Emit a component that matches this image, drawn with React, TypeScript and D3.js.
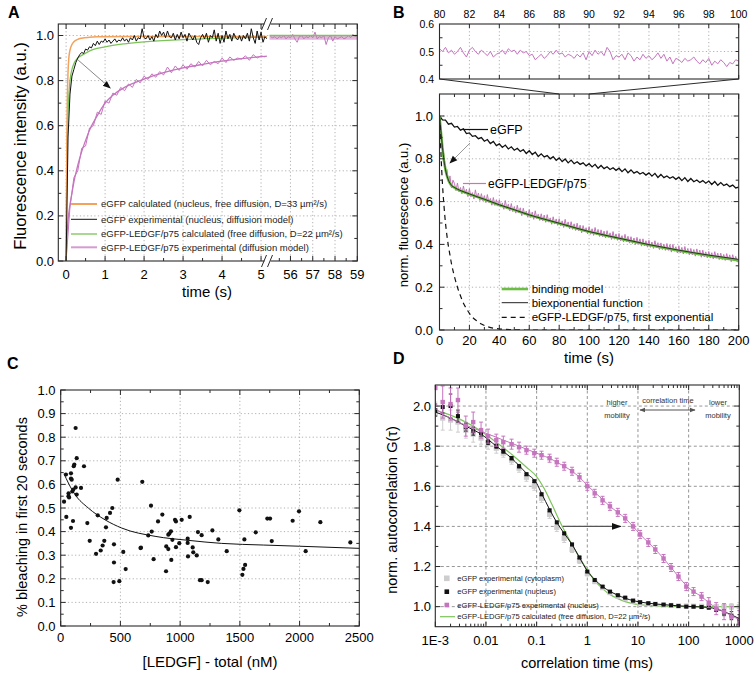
import React from 'react';
import * as d3 from 'd3';

// ================= Panel A data =================
const aEgfpCalcT = [0, 0.01, 0.02, 0.03, 0.05, 0.07, 0.1, 0.15, 0.2, 0.3, 0.4, 0.6, 0.8, 1.0, 1.5, 2, 3, 4, 5.15];
const aEgfpCalc = [0, 0.3, 0.55, 0.7, 0.84, 0.9, 0.935, 0.96, 0.972, 0.983, 0.988, 0.992, 0.994, 0.995, 0.996, 0.996, 0.996, 0.996, 0.996];
const aLedgfCalcT = [0, 0.01, 0.02, 0.04, 0.06, 0.1, 0.15, 0.2, 0.3, 0.4, 0.5, 0.7, 1.0, 1.5, 2, 3, 4, 5.15];
const aLedgfCalc = [0, 0.25, 0.42, 0.6, 0.7, 0.8, 0.85, 0.875, 0.9, 0.912, 0.922, 0.938, 0.95, 0.963, 0.972, 0.982, 0.988, 0.993];
const aEgfpExpDt = 0.05;
const aEgfpExp = [
  0.0, 0.55, 0.74, 0.82, 0.85, 0.88, 0.9, 0.915, 0.925, 0.92,
  0.94, 0.935, 0.95, 0.945, 0.965, 0.955, 0.975, 0.96, 0.975, 0.97,
  0.985, 0.97, 0.98, 0.965, 0.975, 0.985, 0.97, 0.98, 0.975, 0.99,
  0.975, 0.985, 0.97, 0.99, 0.98, 1.0, 0.975, 0.99, 0.985, 1.03,
  0.99, 0.985, 1.0, 0.98, 0.995, 0.975, 1.005, 0.99, 1.02, 1.0,
  1.015, 0.99, 1.02, 0.995, 0.99, 1.01, 0.98, 1.005, 0.985, 1.015,
  0.99, 1.005, 0.975, 1.01, 0.995, 0.98, 1.0, 0.97, 0.96, 0.99,
  1.005, 0.985, 1.01, 0.97, 1.0, 0.99, 1.025, 0.975, 1.01, 0.965,
  1.0, 0.97, 1.02, 0.985, 1.005, 0.975, 1.01, 0.99, 0.98, 1.0,
  0.975, 1.0, 0.985, 1.01, 0.975, 1.03, 0.99, 0.965, 1.02, 0.98,
  1.015, 0.97, 0.995, 0.985,
];
const aLedgfExpDt = 0.1;
const aLedgfExp = [
  0.0, 0.24, 0.37, 0.4, 0.5, 0.51, 0.59, 0.6, 0.66, 0.65,
  0.71, 0.7, 0.745, 0.735, 0.77, 0.755, 0.785, 0.77, 0.805, 0.79,
  0.82, 0.805, 0.83, 0.815, 0.84, 0.825, 0.86, 0.835, 0.865, 0.845,
  0.87, 0.85, 0.875, 0.86, 0.885, 0.865, 0.89, 0.87, 0.885, 0.875,
  0.9, 0.88, 0.905, 0.89, 0.9, 0.895, 0.91, 0.89, 0.915, 0.9,
  0.91, 0.905,
];
const aLedgfFitT = [0, 0.02, 0.05, 0.1, 0.15, 0.2, 0.3, 0.4, 0.5, 0.6, 0.8, 1.0, 1.2, 1.5, 1.75, 2, 2.5, 3, 3.5, 4, 4.5, 5, 5.15];
const aLedgfFit = [0, 0.1, 0.18, 0.25, 0.3, 0.35, 0.425, 0.485, 0.535, 0.58, 0.645, 0.7, 0.735, 0.77, 0.79, 0.807, 0.835, 0.856, 0.872, 0.886, 0.897, 0.906, 0.908];
const aLateT0 = 55.1;
const aLateDt = 0.1;
const aLateLedgfExp = [
  0.995, 0.99, 0.995, 0.985, 0.995, 0.99, 1.0, 0.985, 0.995, 0.99,
  1.005, 0.985, 0.97, 0.995, 1.0, 0.985, 0.995, 0.99, 1.0, 0.99,
  1.015, 0.985, 0.995, 0.99, 1.0, 0.96, 0.99, 1.0, 0.975, 0.995,
  0.985, 0.99, 0.995, 0.985, 0.99, 1.0, 0.99, 1.005, 0.995, 1.0,
];
const aLateT = [55.05, 59];
const aLateLedgfCalc = [1.0, 1.0];
const aLateLedgfFit = [0.99, 0.99];
const aArrow = [[0.31, 0.891], [1.13, 0.767]];
const aXTicksLeft = [0, 1, 2, 3, 4, 5];
const aXTicksRight = [56, 57, 58, 59];
const aYTicks = [0, 0.2, 0.4, 0.6, 0.8, 1.0];
const aLegend = [
  'eGFP calculated (nucleus, free diffusion, D=33 µm²/s)',
  'eGFP experimental (nucleus, diffusion model)',
  'eGFP-LEDGF/p75 calculated (free diffusion, D=22 µm²/s)',
  'eGFP-LEDGF/p75 experimental (diffusion model)',
];

// ================= Panel B data =================
const bInsetT0 = 80;
const bInsetDt = 0.2;
const bInset = [
  0.51, 0.5, 0.515, 0.495, 0.505, 0.49, 0.5, 0.515, 0.495, 0.48, 0.505, 0.515, 0.5, 0.49, 0.505, 0.495, 0.485, 0.5, 0.48, 0.49,
  0.495, 0.505, 0.49, 0.51, 0.5, 0.505, 0.49, 0.505, 0.495, 0.5, 0.485, 0.49, 0.47, 0.48, 0.49, 0.475, 0.485, 0.5, 0.49, 0.505,
  0.49, 0.495, 0.48, 0.49, 0.485, 0.475, 0.49, 0.48, 0.495, 0.47, 0.5, 0.485, 0.505, 0.49, 0.5, 0.485, 0.515, 0.5, 0.47, 0.485,
  0.48, 0.49, 0.47, 0.495, 0.485, 0.465, 0.48, 0.47, 0.49, 0.475, 0.485, 0.47, 0.48, 0.495, 0.475, 0.49, 0.465, 0.48, 0.455, 0.475,
  0.47, 0.46, 0.475, 0.465, 0.47, 0.48, 0.465, 0.455, 0.47, 0.46, 0.475, 0.45, 0.465, 0.455, 0.47, 0.46, 0.445, 0.46, 0.455, 0.47, 0.465,
];
const bEgfpDt = 2;
const bEgfp = [
  1.0, 0.982, 0.981, 0.962, 0.966, 0.948, 0.951, 0.934, 0.94, 0.918,
  0.921, 0.905, 0.908, 0.894, 0.899, 0.882, 0.89, 0.871, 0.881, 0.862,
  0.87, 0.853, 0.864, 0.846, 0.856, 0.84, 0.849, 0.834, 0.843, 0.825,
  0.838, 0.82, 0.831, 0.811, 0.823, 0.809, 0.815, 0.8, 0.81, 0.793,
  0.804, 0.787, 0.799, 0.781, 0.794, 0.777, 0.786, 0.774, 0.781, 0.767,
  0.777, 0.762, 0.774, 0.756, 0.769, 0.754, 0.763, 0.75, 0.758, 0.746,
  0.756, 0.74, 0.753, 0.735, 0.748, 0.733, 0.741, 0.729, 0.736, 0.724,
  0.734, 0.719, 0.732, 0.713, 0.727, 0.712, 0.72, 0.709, 0.716, 0.704,
  0.714, 0.698, 0.712, 0.694, 0.708, 0.693, 0.701, 0.689, 0.698, 0.686,
  0.696, 0.68, 0.694, 0.676, 0.689, 0.675, 0.682, 0.67, 0.677, 0.664,
  0.668,
];
const bLedgfDt = 1;
const bLedgf = [
  1.0, 0.94, 0.85, 0.82, 0.74, 0.75, 0.69, 0.72, 0.665, 0.7,
  0.685, 0.651, 0.687, 0.646, 0.666, 0.636, 0.673, 0.637, 0.658, 0.623,
  0.66, 0.622, 0.642, 0.612, 0.655, 0.617, 0.64, 0.605, 0.637, 0.604,
  0.628, 0.595, 0.633, 0.596, 0.615, 0.583, 0.619, 0.582, 0.609, 0.579,
  0.608, 0.574, 0.594, 0.564, 0.605, 0.566, 0.588, 0.556, 0.591, 0.553,
  0.577, 0.546, 0.583, 0.547, 0.571, 0.534, 0.569, 0.538, 0.556, 0.527,
  0.562, 0.525, 0.551, 0.517, 0.557, 0.521, 0.541, 0.512, 0.543, 0.51,
  0.537, 0.503, 0.539, 0.504, 0.524, 0.494, 0.529, 0.495, 0.519, 0.489,
  0.52, 0.487, 0.51, 0.479, 0.517, 0.481, 0.505, 0.472, 0.506, 0.47,
  0.496, 0.465, 0.499, 0.464, 0.49, 0.454, 0.488, 0.458, 0.478, 0.449,
  0.483, 0.447, 0.473, 0.442, 0.479, 0.444, 0.47, 0.437, 0.468, 0.436,
  0.462, 0.43, 0.464, 0.433, 0.454, 0.423, 0.46, 0.424, 0.449, 0.419,
  0.451, 0.417, 0.441, 0.411, 0.447, 0.413, 0.438, 0.406, 0.436, 0.404,
  0.43, 0.399, 0.433, 0.401, 0.426, 0.392, 0.426, 0.393, 0.417, 0.387,
  0.419, 0.386, 0.411, 0.381, 0.417, 0.384, 0.408, 0.376, 0.407, 0.376,
  0.401, 0.372, 0.404, 0.372, 0.399, 0.364, 0.4, 0.368, 0.389, 0.36,
  0.392, 0.36, 0.386, 0.355, 0.39, 0.358, 0.381, 0.351, 0.381, 0.351,
  0.376, 0.345, 0.379, 0.349, 0.373, 0.34, 0.373, 0.342, 0.365, 0.337,
  0.367, 0.336, 0.361, 0.332, 0.366, 0.335, 0.359, 0.329, 0.359, 0.329,
  0.353, 0.325, 0.357, 0.327, 0.351, 0.319, 0.352, 0.322, 0.344, 0.318,
  0.322,
];
const bFitT = [0, 1, 2, 3, 4, 5, 6, 7, 8, 10, 12, 15, 20, 25, 30, 40, 50, 60, 70, 80, 90, 100, 110, 120, 130, 140, 150, 160, 170, 180, 190, 200];
const bBinding = [1.0, 0.92, 0.85, 0.79, 0.75, 0.72, 0.7, 0.685, 0.675, 0.665, 0.657, 0.648, 0.635, 0.622, 0.61, 0.584, 0.561, 0.537, 0.517, 0.498, 0.478, 0.459, 0.443, 0.428, 0.412, 0.397, 0.384, 0.371, 0.359, 0.347, 0.336, 0.325];
const bBiexp = [1.0, 0.925, 0.853, 0.792, 0.75, 0.72, 0.7, 0.686, 0.676, 0.666, 0.658, 0.649, 0.636, 0.623, 0.611, 0.585, 0.562, 0.538, 0.518, 0.499, 0.479, 0.46, 0.444, 0.429, 0.414, 0.399, 0.386, 0.373, 0.361, 0.35, 0.34, 0.33];
const bFirstExpT = [0, 1, 2, 3, 4, 5, 6, 7, 8, 10, 12, 14, 16, 18, 20, 22, 25, 28, 31, 35, 40, 50, 60, 100, 150, 200];
const bFirstExp = [1.0, 0.82, 0.68, 0.58, 0.5, 0.44, 0.39, 0.35, 0.31, 0.25, 0.2, 0.16, 0.125, 0.1, 0.078, 0.06, 0.042, 0.028, 0.018, 0.01, 0.005, 0.001, 0, 0, 0, 0];
const bInsetXTicks = [80, 82, 84, 86, 88, 90, 92, 94, 96, 98, 100];
const bInsetYTicks = [0.4, 0.5, 0.6];
const bXTicks = [0, 20, 40, 60, 80, 100, 120, 140, 160, 180, 200];
const bYTicks = [0, 0.2, 0.4, 0.6, 0.8, 1.0];
const bLegend = ['binding model', 'biexponential function', 'eGFP-LEDGF/p75, first exponential'];

// ================= Panel C data =================
const cConc = [
  28, 44, 47, 65, 66, 70, 86, 92, 86, 86, 103, 97, 105, 109, 114, 125, 134, 125, 134, 170,
  195, 223, 243, 296, 310, 335, 351, 365, 379, 385, 413, 432, 446, 446, 443, 477, 491, 524, 544, 668,
  672, 683, 733, 756, 762, 778, 815, 851, 884, 882, 901, 901, 910, 923, 926, 935, 957, 965, 965, 1013,
  993, 1063, 1063, 1066, 1080, 1105, 1110, 1139, 1149, 1166, 1180, 1180, 1231, 1270, 1320, 1390, 1496, 1521, 1530, 1544,
  1538, 1633, 1730, 1753, 1767, 1942, 1995, 2051, 2174, 2425,
];
const cBleach = [
  0.527, 0.642, 0.462, 0.55, 0.562, 0.545, 0.625, 0.62, 0.647, 0.416, 0.445, 0.57, 0.578, 0.677, 0.684, 0.839, 0.711, 0.587, 0.557, 0.585,
  0.677, 0.436, 0.361, 0.306, 0.469, 0.32, 0.341, 0.361, 0.418, 0.458, 0.479, 0.5, 0.346, 0.269, 0.186, 0.62, 0.19, 0.314, 0.241, 0.33,
  0.332, 0.611, 0.384, 0.51, 0.4, 0.283, 0.443, 0.472, 0.337, 0.232, 0.387, 0.326, 0.392, 0.401, 0.28, 0.365, 0.45, 0.443, 0.334, 0.45,
  0.351, 0.37, 0.352, 0.295, 0.462, 0.333, 0.312, 0.299, 0.398, 0.194, 0.194, 0.385, 0.186, 0.405, 0.367, 0.317, 0.49, 0.217, 0.242, 0.259,
  0.367, 0.397, 0.455, 0.455, 0.36, 0.446, 0.486, 0.317, 0.44, 0.354,
];
const cFitConc = [28, 64, 120, 231, 371, 511, 790, 1068, 1348, 1700, 2000, 2500];
const cFit = [0.645, 0.606, 0.557, 0.5, 0.45, 0.415, 0.38, 0.363, 0.35, 0.343, 0.338, 0.329];
const cXTicks = [0, 500, 1000, 1500, 2000, 2500];
const cYTicks = [0, 0.1, 0.2, 0.3, 0.4, 0.5, 0.6, 0.7, 0.8, 0.9, 1.0];

// ================= Panel D data =================
const dTau = [0.001, 0.0014, 0.002, 0.0028, 0.004, 0.0056, 0.008, 0.011, 0.016, 0.022, 0.032, 0.045, 0.063, 0.09, 0.125, 0.18, 0.25, 0.35, 0.5, 0.7, 1, 1.4, 2, 2.8, 4, 5.6, 8, 11, 16, 22, 32, 45, 63, 90, 125, 180, 250, 350, 500, 700, 1000];
const dLedgf = [2.09, 2.02, 2.01, 2.03, 1.9, 1.92, 1.88, 1.85, 1.83, 1.82, 1.81, 1.795, 1.78, 1.765, 1.755, 1.74, 1.72, 1.7, 1.675, 1.645, 1.6, 1.565, 1.53, 1.5, 1.47, 1.44, 1.4, 1.36, 1.32, 1.285, 1.24, 1.195, 1.15, 1.1, 1.075, 1.05, 1.02, 0.99, 0.975, 0.95, 0.92];
const dLedgfErr = [0.08, 0.08, 0.08, 0.06, 0.05, 0.05, 0.04, 0.035, 0.03, 0.03, 0.025, 0.025, 0.02, 0.02, 0.02, 0.02, 0.02, 0.02, 0.02, 0.02, 0.02, 0.02, 0.02, 0.02, 0.02, 0.02, 0.02, 0.02, 0.02, 0.02, 0.02, 0.02, 0.02, 0.02, 0.02, 0.02, 0.025, 0.03, 0.04, 0.05, 0.06];
const dLedgfFit = [1.99, 1.96, 1.94, 1.92, 1.905, 1.89, 1.875, 1.86, 1.845, 1.83, 1.815, 1.8, 1.785, 1.77, 1.755, 1.74, 1.72, 1.7, 1.675, 1.645, 1.605, 1.57, 1.535, 1.5, 1.47, 1.44, 1.4, 1.36, 1.32, 1.285, 1.24, 1.195, 1.15, 1.105, 1.075, 1.05, 1.02, 0.995, 0.975, 0.955, 0.935];
const dNuc = [1.98, 1.995, 2.0, 1.95, 1.895, 1.875, 1.865, 1.82, 1.8, 1.775, 1.74, 1.7, 1.66, 1.625, 1.56, 1.48, 1.42, 1.365, 1.31, 1.245, 1.175, 1.133, 1.1, 1.075, 1.057, 1.045, 1.03, 1.022, 1.017, 1.013, 1.01, 1.007, 1.003, 1.0, 1.0, 0.998, 0.995, 0.985, 0.97, 0.955, 0.935];
const dNucErr = [0.03, 0.03, 0.06, 0.03, 0.02, 0.02, 0.015, 0.012, 0.01, 0.01, 0.008, 0.008, 0.006, 0.006, 0.006, 0.006, 0.006, 0.006, 0.006, 0.006, 0.005, 0.005, 0.005, 0.004, 0.004, 0.004, 0.004, 0.004, 0.004, 0.004, 0.004, 0.004, 0.004, 0.004, 0.005, 0.005, 0.006, 0.008, 0.015, 0.02, 0.025];
const dCyto = [1.96, 1.94, 1.93, 1.92, 1.88, 1.86, 1.84, 1.815, 1.79, 1.765, 1.73, 1.69, 1.645, 1.6, 1.54, 1.46, 1.395, 1.34, 1.285, 1.23, 1.165, 1.125, 1.095, 1.07, 1.052, 1.04, 1.028, 1.02, 1.015, 1.012, 1.008, 1.006, 1.004, 1.003, 1.002, 1.002, 1.0, 1.0, 1.0, 1.0, 1.0];
const dCytoErr = [0.06, 0.06, 0.05, 0.05, 0.04, 0.04, 0.03, 0.03, 0.025, 0.02, 0.02, 0.02, 0.02, 0.02, 0.02, 0.02, 0.02, 0.02, 0.015, 0.015, 0.012, 0.01, 0.01, 0.008, 0.008, 0.006, 0.006, 0.005, 0.005, 0.005, 0.005, 0.005, 0.005, 0.005, 0.006, 0.006, 0.008, 0.01, 0.012, 0.015, 0.02];
const dNucFitTau = [0.001, 0.002, 0.004, 0.008, 0.016, 0.032, 0.063, 0.1, 0.125, 0.18, 0.25, 0.35, 0.5, 0.7, 1, 1.4, 2, 4, 8, 16, 32, 63, 125, 250, 500, 1000];
const dNucFit = [1.97, 1.94, 1.9, 1.86, 1.8, 1.74, 1.665, 1.615, 1.565, 1.485, 1.42, 1.365, 1.31, 1.245, 1.178, 1.135, 1.1, 1.057, 1.03, 1.017, 1.01, 1.004, 1.0, 0.996, 0.975, 0.94];
const dCalcTau = [0.001, 0.002, 0.004, 0.008, 0.016, 0.032, 0.063, 0.1, 0.14, 0.2, 0.3, 0.45, 0.7, 1, 1.4, 2, 2.8, 4, 5.6, 8, 16, 32, 100, 1000];
const dCalc = [1.98, 1.955, 1.92, 1.875, 1.82, 1.76, 1.695, 1.648, 1.59, 1.51, 1.415, 1.33, 1.245, 1.183, 1.13, 1.09, 1.06, 1.04, 1.025, 1.015, 1.006, 1.002, 1.0, 1.0];
const dArrow = [[0.33, 1.4], [4.56, 1.4]];
const dXTicks = [0.001, 0.01, 0.1, 1, 10, 100, 1000];
const dXLabels = ['1E-3', '0.01', '0.1', '1', '10', '100', '1000'];
const dYTicks = [1.0, 1.2, 1.4, 1.6, 1.8, 2.0];
const dLegend = [
  'eGFP experimental (cytoplasm)',
  'eGFP experimental (nucleus)',
  'eGFP-LEDGF/p75 experimental (nucleus)',
  'eGFP-LEDGF/p75 calculated (free diffusion, D=22 µm²/s)',
];

// ================= styling =================
const F = "'Liberation Sans', Arial, Helvetica, sans-serif";
const AX = '#2a2a2a';
const ORANGE = '#f2a25a';
const GREEN = '#7cc35a';
const GREEN_B = '#6cbd45';
const PINK = '#c574be';
const PINK_LIGHT = '#e3b5df';
const GRAY = '#cdcdcd';

const seq = (t0: number, dt: number, n: number) => Array.from({ length: n }, (_, i) => +(t0 + i * dt).toFixed(4));
const path = (xs: number[], ys: number[], sx: any, sy: any, curve: any = d3.curveLinear) =>
  d3.line<number>().x((_, i) => sx(xs[i])).y((d) => sy(d)).curve(curve)(ys) || '';

function ticks(key: string, vals: number[], sc: any, side: string, pos: number, len: number) {
  return vals.map((v, i) => {
    const p = sc(v);
    let a;
    if (side === 'bottom') a = { x1: p, x2: p, y1: pos, y2: pos - len };
    else if (side === 'top') a = { x1: p, x2: p, y1: pos, y2: pos + len };
    else if (side === 'left') a = { x1: pos, x2: pos + len, y1: p, y2: p };
    else a = { x1: pos, x2: pos - len, y1: p, y2: p };
    return <line key={key + i} {...a} stroke={AX} strokeWidth={1} />;
  });
}
function vgrid(key: string, vals: number[], sc: any, t: number, b: number, dash: string, color = '#a8a8a8') {
  return vals.map((v, i) => <line key={key + i} x1={sc(v)} x2={sc(v)} y1={t} y2={b} stroke={color} strokeWidth={0.9} strokeDasharray={dash} />);
}
function hgrid(key: string, vals: number[], sc: any, l: number, r: number, dash: string, color = '#a8a8a8') {
  return vals.map((v, i) => <line key={key + i} x1={l} x2={r} y1={sc(v)} y2={sc(v)} stroke={color} strokeWidth={0.9} strokeDasharray={dash} />);
}

export default function App() {
  // ---------- Panel A scales ----------
  const A = { l: 58.3, r: 357.3, t: 24, b: 261 };
  const xA1 = d3.scaleLinear().domain([-0.2, 5.15]).range([58.3, 266.9]);
  const xA2 = d3.scaleLinear().domain([55.05, 59]).range([269.3, 357.3]);
  const yA = d3.scaleLinear().domain([0, 1.051]).range([261, 24]);
  const aEgfpT = seq(0, aEgfpExpDt, aEgfpExp.length);
  const aLedgfT = seq(0, aLedgfExpDt, aLedgfExp.length);
  const aLateTs = seq(aLateT0, aLateDt, aLateLedgfExp.length);

  // ---------- Panel B scales ----------
  const BI = { l: 439.5, r: 738.7, t: 24, b: 79 };
  const xBi = d3.scaleLinear().domain([80, 100]).range([BI.l, BI.r]);
  const yBi = d3.scaleLinear().domain([0.4, 0.6]).range([BI.b, BI.t]);
  const B = { l: 439.5, r: 738.7, t: 94, b: 330 };
  const xB = d3.scaleLinear().domain([0, 200]).range([B.l, B.r]);
  const yB = d3.scaleLinear().domain([0, 1.1]).range([330, 94.6]);

  // ---------- Panel C scales ----------
  const C = { l: 60.7, r: 359.3, t: 390, b: 626 };
  const xC = d3.scaleLinear().domain([0, 2500]).range([C.l, C.r]);
  const yC = d3.scaleLinear().domain([0, 1]).range([C.b, C.t]);

  // ---------- Panel D scales ----------
  const D = { l: 435.3, r: 739.3, t: 385, b: 626.7 };
  const xD = d3.scaleLog().domain([1e-3, 1e3]).range([D.l, D.r]);
  const yD = d3.scaleLinear().domain([0.9, 2.105]).range([D.b, D.t]);
  const dMinor: number[] = [];
  [1e-3, 1e-2, 1e-1, 1, 10, 100].forEach((dec) => [2, 3, 4, 5, 6, 7, 8, 9].forEach((m) => dMinor.push(dec * m)));

  const tickFont = 13;

  return (
    <svg width={756} height={681} style={{ position: 'absolute', left: 0, top: 0 }} fontFamily={F}>
      <rect x={0} y={0} width={756} height={681} fill="#fff" />
      <defs>
        <marker id="ahK" viewBox="0 0 10 10" refX="9" refY="5" markerWidth="8" markerHeight="8" markerUnits="userSpaceOnUse" orient="auto">
          <path d="M0,1 L10,5 L0,9 z" fill="#111" />
        </marker>
        <marker id="ahK2" viewBox="0 0 10 10" refX="9" refY="5" markerWidth="10" markerHeight="10" markerUnits="userSpaceOnUse" orient="auto">
          <path d="M0,1.5 L10,5 L0,8.5 z" fill="#111" />
        </marker>
        <marker id="ahG" viewBox="0 0 10 10" refX="9" refY="5" markerWidth="6" markerHeight="6" markerUnits="userSpaceOnUse" orient="auto-start-reverse">
          <path d="M0,1 L10,5 L0,9 z" fill="#555" />
        </marker>
        <clipPath id="clipA1"><rect x={A.l} y={A.t} width={266.9 - A.l} height={A.b - A.t} /></clipPath>
        <clipPath id="clipA2"><rect x={269.3} y={A.t} width={A.r - 269.3} height={A.b - A.t} /></clipPath>
        <clipPath id="clipBi"><rect x={BI.l} y={BI.t} width={BI.r - BI.l} height={BI.b - BI.t} /></clipPath>
        <clipPath id="clipB"><rect x={B.l} y={B.t} width={B.r - B.l} height={B.b - B.t} /></clipPath>
        <clipPath id="clipD"><rect x={D.l} y={D.t} width={D.r - D.l} height={D.b - D.t} /></clipPath>
      </defs>

      {/* ===================== Panel A ===================== */}
      <g>
        {vgrid('agx', aXTicksLeft, xA1, A.t, A.b, '1.2,2.4')}
        {vgrid('agx2', [56, 57, 58], xA2, A.t, A.b, '1.2,2.4')}
        {hgrid('agy', aYTicks.slice(1), yA, A.l, A.r, '1.2,2.4')}
        <g clipPath="url(#clipA1)" fill="none">
          <path d={path(aLedgfT, aLedgfExp, xA1, yA)} stroke={PINK} strokeWidth={1} />
          <path d={path(aLedgfFitT, aLedgfFit, xA1, yA, d3.curveMonotoneX)} stroke={PINK} strokeWidth={1.3} />
          <path d={path(aLedgfCalcT, aLedgfCalc, xA1, yA, d3.curveMonotoneX)} stroke={GREEN} strokeWidth={1.3} />
          <path d={path(aEgfpCalcT, aEgfpCalc, xA1, yA, d3.curveMonotoneX)} stroke={ORANGE} strokeWidth={1.5} />
          <path d={path(aEgfpT, aEgfpExp, xA1, yA)} stroke="#111" strokeWidth={1} />
        </g>
        <g clipPath="url(#clipA2)" fill="none">
          <path d={path(aLateT, aLateLedgfFit, xA2, yA)} stroke={PINK_LIGHT} strokeWidth={4} />
          <path d={path(aLateTs, aLateLedgfExp, xA2, yA)} stroke={PINK} strokeWidth={1} />
          <path d={path(aLateT, aLateLedgfCalc, xA2, yA)} stroke={GREEN} strokeWidth={1.3} />
        </g>
        <line x1={xA1(aArrow[0][0])} y1={yA(aArrow[0][1])} x2={xA1(aArrow[1][0])} y2={yA(aArrow[1][1])} stroke="#888" strokeWidth={1} markerEnd="url(#ahK)" />
        <rect x={A.l} y={A.t} width={A.r - A.l} height={A.b - A.t} fill="none" stroke={AX} strokeWidth={1.1} />
        {ticks('atb', aXTicksLeft, xA1, 'bottom', A.b, 5)}
        {ticks('att', aXTicksLeft, xA1, 'top', A.t, 5)}
        {ticks('atbm', [0.5, 1.5, 2.5, 3.5, 4.5], xA1, 'bottom', A.b, 3)}
        {ticks('attm', [0.5, 1.5, 2.5, 3.5, 4.5], xA1, 'top', A.t, 3)}
        {ticks('atb2', aXTicksRight, xA2, 'bottom', A.b, 5)}
        {ticks('att2', aXTicksRight, xA2, 'top', A.t, 5)}
        {ticks('atb2m', [55.5, 56.5, 57.5, 58.5], xA2, 'bottom', A.b, 3)}
        {ticks('att2m', [55.5, 56.5, 57.5, 58.5], xA2, 'top', A.t, 3)}
        {ticks('atl', aYTicks, yA, 'left', A.l, 5)}
        {ticks('atr', aYTicks, yA, 'right', A.r, 5)}
        {ticks('atlm', [0.1, 0.3, 0.5, 0.7, 0.9], yA, 'left', A.l, 3)}
        {ticks('atrm', [0.1, 0.3, 0.5, 0.7, 0.9], yA, 'right', A.r, 3)}
        {/* axis break */}
        <rect x={264.5} y={A.t - 2} width={6} height={4} fill="#fff" />
        <rect x={264.5} y={A.b - 2} width={6} height={4} fill="#fff" />
        <line x1={261.5} y1={A.t + 6} x2={266.5} y2={A.t - 6} stroke={AX} strokeWidth={1} />
        <line x1={267.5} y1={A.t + 6} x2={272.5} y2={A.t - 6} stroke={AX} strokeWidth={1} />
        <line x1={261.5} y1={A.b + 6} x2={266.5} y2={A.b - 6} stroke={AX} strokeWidth={1} />
        <line x1={267.5} y1={A.b + 6} x2={272.5} y2={A.b - 6} stroke={AX} strokeWidth={1} />
        {aXTicksLeft.map((v, i) => (
          <text key={'axl' + i} x={xA1(v)} y={279} fontSize={tickFont} textAnchor="middle">{v}</text>
        ))}
        {aXTicksRight.map((v, i) => (
          <text key={'axr' + i} x={xA2(v)} y={279} fontSize={tickFont} textAnchor="middle">{v}</text>
        ))}
        {aYTicks.map((v, i) => (
          <text key={'ay' + i} x={54} y={yA(v) + 4.5} fontSize={tickFont} textAnchor="end">{v.toFixed(1)}</text>
        ))}
        <text x={207} y={297} fontSize={15} textAnchor="middle">time (s)</text>
        <text transform="translate(26,146) rotate(-90)" fontSize={16.5} textAnchor="middle">Fluorescence intensity (a.u.)</text>
        {/* legend */}
        {aLegend.map((s, i) => {
          const y = [204, 219.3, 234, 247.3][i];
          const col = [ORANGE, '#111', GREEN, '#d49ccf'][i];
          const w = [2, 1, 1.3, 2][i];
          return (
            <g key={'al' + i}>
              <line x1={71} x2={97} y1={y} y2={y} stroke={col} strokeWidth={w} />
              <text x={101} y={y + 3.3} fontSize={9.5} fill="#222">{s}</text>
            </g>
          );
        })}
        <text x={8} y={18} fontSize={16} fontWeight="bold">A</text>
      </g>

      {/* ===================== Panel B ===================== */}
      <g>
        {/* inset */}
        {vgrid('bigx', bInsetXTicks.slice(1, -1), xBi, BI.t, BI.b, '1.2,2.4')}
        {hgrid('bigy', [0.5], yBi, BI.l, BI.r, '1.2,2.4')}
        <g clipPath="url(#clipBi)">
          <path d={path(seq(bInsetT0, bInsetDt, bInset.length), bInset, xBi, yBi)} fill="none" stroke={PINK} strokeWidth={1} />
        </g>
        <rect x={BI.l} y={BI.t} width={BI.r - BI.l} height={BI.b - BI.t} fill="none" stroke={AX} strokeWidth={1.1} />
        {ticks('bitt', bInsetXTicks, xBi, 'top', BI.t, 4)}
        {ticks('bitb', bInsetXTicks, xBi, 'bottom', BI.b, 4)}
        {ticks('bitl', [0.45, 0.55], yBi, 'left', BI.l, 3)}
        {ticks('bitr', [0.45, 0.5, 0.55], yBi, 'right', BI.r, 3)}
        {bInsetXTicks.map((v, i) => (
          <text key={'bix' + i} x={xBi(v)} y={18} fontSize={10.5} textAnchor="middle">{v}</text>
        ))}
        {bInsetYTicks.map((v, i) => (
          <text key={'biy' + i} x={434} y={yBi(v) + 4} fontSize={10.5} textAnchor="end">{v.toFixed(1)}</text>
        ))}
        {/* connector */}
        <line x1={BI.l} y1={BI.b} x2={xB(80)} y2={B.t} stroke={AX} strokeWidth={1} />
        <line x1={BI.r} y1={BI.b} x2={xB(100)} y2={B.t} stroke={AX} strokeWidth={1} />

        {/* main */}
        {vgrid('bgx', bXTicks.slice(1, -1), xB, B.t, B.b, '1.2,2.4')}
        {hgrid('bgy', bYTicks.slice(1), yB, B.l, B.r, '1.2,2.4')}
        <g clipPath="url(#clipB)" fill="none">
          <path d={path(seq(0, bEgfpDt, bEgfp.length), bEgfp, xB, yB)} stroke="#111" strokeWidth={1.3} />
          <path d={path(seq(0, bLedgfDt, bLedgf.length), bLedgf, xB, yB)} stroke={PINK} strokeWidth={1} />
          <path d={path(bFitT, bBinding, xB, yB, d3.curveMonotoneX)} stroke={GREEN_B} strokeWidth={2.6} />
          <path d={path(bFitT, bBiexp, xB, yB, d3.curveMonotoneX)} stroke="#222" strokeWidth={0.9} />
          <path d={path(bFirstExpT, bFirstExp, xB, yB, d3.curveMonotoneX)} stroke="#111" strokeWidth={1.2} strokeDasharray="5,4" />
        </g>
        <rect x={B.l} y={B.t} width={B.r - B.l} height={B.b - B.t} fill="none" stroke={AX} strokeWidth={1.1} />
        {ticks('btb', bXTicks, xB, 'bottom', B.b, 5)}
        {ticks('btt', bXTicks, xB, 'top', B.t, 5)}
        {ticks('btbm', bXTicks.slice(0, -1).map((v) => v + 10), xB, 'bottom', B.b, 3)}
        {ticks('bttm', bXTicks.slice(0, -1).map((v) => v + 10), xB, 'top', B.t, 3)}
        {ticks('btl', bYTicks, yB, 'left', B.l, 5)}
        {ticks('btr', bYTicks, yB, 'right', B.r, 5)}
        {ticks('btlm', [0.1, 0.3, 0.5, 0.7, 0.9], yB, 'left', B.l, 3)}
        {ticks('btrm', [0.1, 0.3, 0.5, 0.7, 0.9], yB, 'right', B.r, 3)}
        {bXTicks.map((v, i) => (
          <text key={'bx' + i} x={xB(v)} y={345} fontSize={tickFont} textAnchor="middle">{v}</text>
        ))}
        {bYTicks.map((v, i) => (
          <text key={'by' + i} x={433} y={yB(v) + 4.5} fontSize={tickFont} textAnchor="end">{v.toFixed(1)}</text>
        ))}
        <text x={589} y={363} fontSize={15} textAnchor="middle">time (s)</text>
        <text transform="translate(408,215) rotate(-90)" fontSize={13} textAnchor="middle">norm. fluorescence (a.u.)</text>
        {/* labels */}
        <line x1={463} x2={488} y1={129.5} y2={129.5} stroke="#111" strokeWidth={1.2} />
        <text x={490} y={134} fontSize={12.5}>eGFP</text>
        <line x1={463} x2={486} y1={183.5} y2={183.5} stroke={PINK} strokeWidth={1.2} />
        <text x={488} y={188} fontSize={12}>eGFP-LEDGF/p75</text>
        <line x1={470} y1={143} x2={450} y2={163} stroke="#999" strokeWidth={1} markerEnd="url(#ahK)" />
        {/* legend */}
        {bLegend.map((s, i) => {
          const y = [289, 302.7, 317.3][i];
          return (
            <g key={'bl' + i}>
              <line x1={501.7} x2={528} y1={y} y2={y} stroke={[GREEN_B, '#222', '#111'][i]} strokeWidth={[2.6, 1, 1.2][i]} strokeDasharray={i === 2 ? '5,4' : undefined} />
              <text x={531.7} y={y + 4} fontSize={11.5}>{s}</text>
            </g>
          );
        })}
        <text x={393} y={18} fontSize={16} fontWeight="bold">B</text>
      </g>

      {/* ===================== Panel C ===================== */}
      <g>
        {vgrid('cgx', cXTicks.slice(1, -1), xC, C.t, C.b, '1.2,2.4')}
        {hgrid('cgy', cYTicks.slice(1, -1), yC, C.l, C.r, '1.2,2.4')}
        <path d={path(cFitConc, cFit, xC, yC, d3.curveMonotoneX)} fill="none" stroke="#111" strokeWidth={1} />
        {cConc.map((v, i) => (
          <circle key={'cp' + i} cx={xC(v)} cy={yC(cBleach[i])} r={2.1} fill="#111" />
        ))}
        <rect x={C.l} y={C.t} width={C.r - C.l} height={C.b - C.t} fill="none" stroke={AX} strokeWidth={1.1} />
        {ticks('ctb', cXTicks, xC, 'bottom', C.b, 5)}
        {ticks('ctt', cXTicks, xC, 'top', C.t, 5)}
        {ticks('ctbm', [250, 750, 1250, 1750, 2250], xC, 'bottom', C.b, 3)}
        {ticks('cttm', [250, 750, 1250, 1750, 2250], xC, 'top', C.t, 3)}
        {ticks('ctl', cYTicks, yC, 'left', C.l, 5)}
        {ticks('ctr', cYTicks, yC, 'right', C.r, 5)}
        {ticks('ctlm', cYTicks.slice(0, -1).map((v) => v + 0.05), yC, 'left', C.l, 3)}
        {ticks('ctrm', cYTicks.slice(0, -1).map((v) => v + 0.05), yC, 'right', C.r, 3)}
        {cXTicks.map((v, i) => (
          <text key={'cx' + i} x={xC(v)} y={641.5} fontSize={tickFont} textAnchor="middle">{v}</text>
        ))}
        {cYTicks.map((v, i) => (
          <text key={'cy' + i} x={55.5} y={yC(v) + 4.5} fontSize={tickFont} textAnchor="end">{v.toFixed(1)}</text>
        ))}
        <text x={210} y={667} fontSize={15} textAnchor="middle">[LEDGF] - total (nM)</text>
        <text transform="translate(27,517) rotate(-90)" fontSize={14.5} textAnchor="middle">% bleaching in first 20 seconds</text>
        <text x={7} y={369} fontSize={16} fontWeight="bold">C</text>
      </g>

      {/* ===================== Panel D ===================== */}
      <g>
        {vgrid('dgx', dXTicks.slice(1, -1), xD, D.t, D.b, '3,2.5', '#8a8a8a')}
        {hgrid('dgy', dYTicks, yD, D.l, D.r, '3,2.5', '#8a8a8a')}
        <g clipPath="url(#clipD)">
          <path d={path(dCalcTau, dCalc, xD, yD, d3.curveMonotoneX)} fill="none" stroke={GREEN} strokeWidth={1.2} />
          {dTau.map((t, i) => (
            <g key={'dc' + i}>
              <line x1={xD(t)} x2={xD(t)} y1={yD(dCyto[i] - dCytoErr[i])} y2={yD(dCyto[i] + dCytoErr[i])} stroke={GRAY} strokeWidth={1} />
              <line x1={xD(t) - 2} x2={xD(t) + 2} y1={yD(dCyto[i] - dCytoErr[i])} y2={yD(dCyto[i] - dCytoErr[i])} stroke={GRAY} />
              <line x1={xD(t) - 2} x2={xD(t) + 2} y1={yD(dCyto[i] + dCytoErr[i])} y2={yD(dCyto[i] + dCytoErr[i])} stroke={GRAY} />
              <rect x={xD(t) - 2.6} y={yD(dCyto[i]) - 2.6} width={5.2} height={5.2} fill={GRAY} />
            </g>
          ))}
          <path d={path(dNucFitTau, dNucFit, xD, yD, d3.curveMonotoneX)} fill="none" stroke="#111" strokeWidth={1} />
          {dTau.map((t, i) => (
            <g key={'dn' + i}>
              <line x1={xD(t)} x2={xD(t)} y1={yD(dNuc[i] - dNucErr[i])} y2={yD(dNuc[i] + dNucErr[i])} stroke="#111" strokeWidth={0.9} />
              <line x1={xD(t) - 1.8} x2={xD(t) + 1.8} y1={yD(dNuc[i] - dNucErr[i])} y2={yD(dNuc[i] - dNucErr[i])} stroke="#111" strokeWidth={0.9} />
              <line x1={xD(t) - 1.8} x2={xD(t) + 1.8} y1={yD(dNuc[i] + dNucErr[i])} y2={yD(dNuc[i] + dNucErr[i])} stroke="#111" strokeWidth={0.9} />
              <rect x={xD(t) - 2} y={yD(dNuc[i]) - 2} width={4} height={4} fill="#111" />
            </g>
          ))}
          <path d={path(dTau, dLedgfFit, xD, yD, d3.curveMonotoneX)} fill="none" stroke={PINK} strokeWidth={1} />
          {dTau.map((t, i) => (
            <g key={'dl' + i}>
              <line x1={xD(t)} x2={xD(t)} y1={yD(dLedgf[i] - dLedgfErr[i])} y2={yD(dLedgf[i] + dLedgfErr[i])} stroke={PINK} strokeWidth={1} />
              <line x1={xD(t) - 2} x2={xD(t) + 2} y1={yD(dLedgf[i] - dLedgfErr[i])} y2={yD(dLedgf[i] - dLedgfErr[i])} stroke={PINK} />
              <line x1={xD(t) - 2} x2={xD(t) + 2} y1={yD(dLedgf[i] + dLedgfErr[i])} y2={yD(dLedgf[i] + dLedgfErr[i])} stroke={PINK} />
              <rect x={xD(t) - 2.2} y={yD(dLedgf[i]) - 2.2} width={4.4} height={4.4} fill={PINK} />
            </g>
          ))}
        </g>
        <line x1={xD(dArrow[0][0])} y1={yD(dArrow[0][1])} x2={xD(dArrow[1][0])} y2={yD(dArrow[1][1])} stroke="#555" strokeWidth={1.2} markerEnd="url(#ahK2)" />
        <rect x={D.l} y={D.t} width={D.r - D.l} height={D.b - D.t} fill="none" stroke={AX} strokeWidth={1.1} />
        {ticks('dtb', dXTicks, xD, 'bottom', D.b, 5)}
        {ticks('dtt', dXTicks, xD, 'top', D.t, 5)}
        {ticks('dtbm', dMinor, xD, 'bottom', D.b, 3)}
        {ticks('dttm', dMinor, xD, 'top', D.t, 3)}
        {ticks('dtl', dYTicks, yD, 'left', D.l, 5)}
        {ticks('dtr', dYTicks, yD, 'right', D.r, 5)}
        {ticks('dtlm', [1.1, 1.3, 1.5, 1.7, 1.9], yD, 'left', D.l, 3)}
        {ticks('dtrm', [1.1, 1.3, 1.5, 1.7, 1.9], yD, 'right', D.r, 3)}
        {dXTicks.map((v, i) => (
          <text key={'dx' + i} x={xD(v)} y={645} fontSize={tickFont} textAnchor="middle">{dXLabels[i]}</text>
        ))}
        {dYTicks.map((v, i) => (
          <text key={'dy' + i} x={431} y={yD(v) + 4.5} fontSize={tickFont} textAnchor="end">{v.toFixed(1)}</text>
        ))}
        <text x={587} y={668} fontSize={14.5} textAnchor="middle">correlation time (ms)</text>
        <text transform="translate(397,510) rotate(-90)" fontSize={14.5} textAnchor="middle">norm. autocorrelation G(τ)</text>
        {/* annotations */}
        <text x={617} y={405} fontSize={7.5} textAnchor="middle" fill="#333">higher</text>
        <text x={617} y={418} fontSize={7.5} textAnchor="middle" fill="#333">mobility</text>
        <text x={668} y={403} fontSize={7.5} textAnchor="middle" fill="#333">correlation time</text>
        <line x1={640} x2={695} y1={410} y2={410} stroke="#555" strokeWidth={1.1} markerStart="url(#ahG)" markerEnd="url(#ahG)" />
        <text x={718} y={405} fontSize={7.5} textAnchor="middle" fill="#333">lower</text>
        <text x={718} y={418} fontSize={7.5} textAnchor="middle" fill="#333">mobility</text>
        {/* legend */}
        {dLegend.map((s, i) => {
          const y = [578.3, 591.7, 605, 616.7][i];
          return (
            <g key={'dlg' + i}>
              {i === 0 && <rect x={444} y={y - 2.8} width={5.6} height={5.6} fill={GRAY} />}
              {i === 1 && <rect x={444.5} y={y - 2.3} width={4.6} height={4.6} fill="#111" />}
              {i === 2 && <rect x={444.5} y={y - 2.3} width={4.6} height={4.6} fill={PINK} />}
              {i === 3 && <line x1={440} x2={455} y1={y} y2={y} stroke={GREEN} strokeWidth={1.2} />}
              <text x={457.3} y={y + 2.7} fontSize={7.6} fill="#222">{s}</text>
            </g>
          );
        })}
        <text x={393} y={364} fontSize={16} fontWeight="bold">D</text>
      </g>
    </svg>
  );
}
